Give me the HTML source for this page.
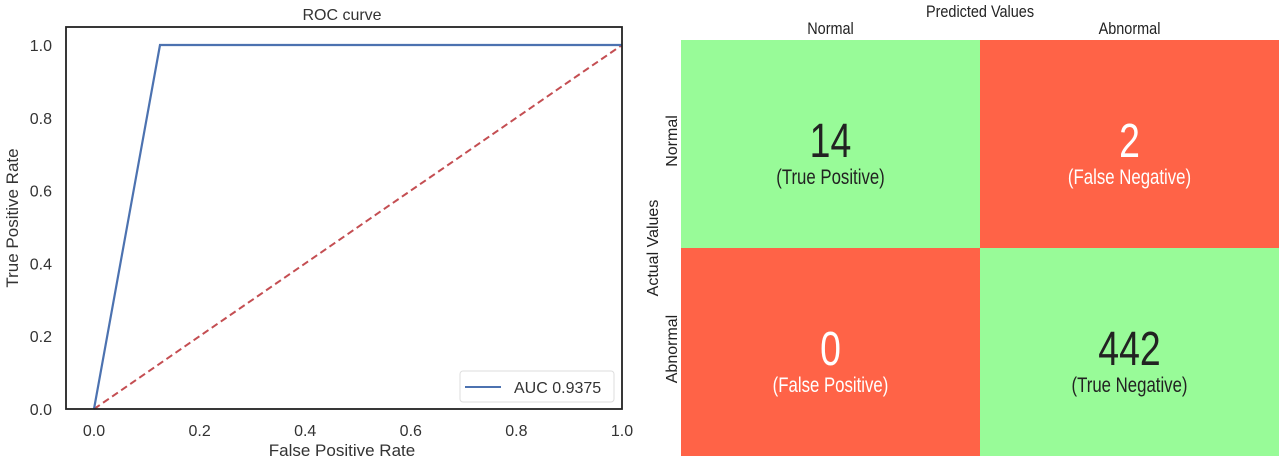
<!DOCTYPE html>
<html><head><meta charset="utf-8"><style>
body{margin:0;background:#fff;width:1279px;height:457px;overflow:hidden;font-family:"Liberation Sans",sans-serif}
svg text{font-family:"Liberation Sans",sans-serif}
</style></head><body>
<svg width="1279" height="457">
<g id="roc"></g>
<g id="cm" class="cm"></g>
</svg>
<script>
const fprValues=[0,0.125,1];
const tprValues=[0,1,1];
const chanceX=[0,1];
const chanceY=[0,1];
const xTicks=[0,0.2,0.4,0.6,0.8,1.0];
const yTicks=[0,0.2,0.4,0.6,0.8,1.0];
const aucLabel="AUC 0.9375";
const cmValues=[[14,2],[0,442]];
const cmLabels=[["(True Positive)","(False Negative)"],["(False Positive)","(True Negative)"]];
const classNames=["Normal","Abnormal"];

const NS="http://www.w3.org/2000/svg";
function mk(p,t,a,txt){const e=document.createElementNS(NS,t);for(const k in a)e.setAttribute(k,a[k]);if(txt!==undefined)e.textContent=txt;p.appendChild(e);return e;}
const X=v=>94+v*528, Y=v=>409-v*364;
const roc=document.getElementById('roc');
let e;
e=mk(roc,'text',{x:342,y:20,'text-anchor':'middle','font-size':16,fill:'#333'},'ROC curve');


xTicks.forEach(t=>{e=mk(roc,'text',{x:X(t),y:436,'text-anchor':'middle','font-size':16,fill:'#333'},t.toFixed(1));

});
yTicks.forEach(t=>{e=mk(roc,'text',{x:52,y:Y(t)+6,'text-anchor':'end','font-size':16,fill:'#333'},t.toFixed(1));

});
e=mk(roc,'text',{x:342,y:456,'text-anchor':'middle','font-size':17,fill:'#333'},'False Positive Rate');


e=mk(roc,'text',{x:0,y:0,'text-anchor':'middle','font-size':17,fill:'#333',transform:'translate(18,218) rotate(-90)'},'True Positive Rate');


e=mk(roc,'polyline',{points:chanceX.map((v,i)=>X(v)+','+Y(chanceY[i])).join(' '),fill:'none',stroke:'#c44e52','stroke-width':2,'stroke-dasharray':'7,4'});


e=mk(roc,'polyline',{points:fprValues.map((v,i)=>X(v)+','+Y(tprValues[i])).join(' '),fill:'none',stroke:'#4c72b0','stroke-width':2.2});


e=mk(roc,'rect',{x:66,y:27,width:556,height:382,fill:'none',stroke:'#222','stroke-width':1.8});


const lg=mk(roc,'g',{});


mk(lg,'rect',{x:460,y:371,width:154,height:31,rx:3,fill:'#fff',stroke:'#ddd'});
mk(lg,'line',{x1:465,y1:387,x2:501,y2:387,stroke:'#4c72b0','stroke-width':2});
mk(lg,'text',{x:514,y:393,'font-size':16,fill:'#333'},aucLabel);

const cm=document.getElementById('cm');
const cx0=681,cy0=40,cw=299,ch=208;
const colors=[["#98fb98","#ff6347"],["#ff6347","#98fb98"]];
const tcol=[["#222","#fff"],["#fff","#222"]];
for(let r=0;r<2;r++)for(let c=0;c<2;c++){
 const x=cx0+c*cw,y=cy0+r*ch;
 e=mk(cm,'rect',{x:x,y:y,width:cw,height:ch,fill:colors[r][c]});
 
 
 e=mk(cm,'text',{x:0,y:0,'text-anchor':'middle','font-size':48,fill:tcol[r][c],transform:'translate('+(x+cw/2)+','+(y+117)+') scale(0.78,1)'},String(cmValues[r][c]));
 
 
 e=mk(cm,'text',{x:0,y:0,'text-anchor':'middle','font-size':21,fill:tcol[r][c],transform:'translate('+(x+cw/2)+','+(y+144)+') scale(0.8,1)'},cmLabels[r][c]);
 
 
}
classNames.forEach((n,i)=>{
 e=mk(cm,'text',{x:0,y:0,'text-anchor':'middle','font-size':17,fill:'#222',transform:'translate('+(cx0+i*cw+cw/2)+',34) scale(0.85,1)'},n);
 
 
 e=mk(cm,'text',{x:0,y:0,'text-anchor':'middle','font-size':16,fill:'#222',transform:'translate(677,'+(cy0+i*ch+ch/2-3)+') rotate(-90)'},n);
 
 
});
e=mk(cm,'text',{x:0,y:0,'text-anchor':'middle','font-size':17,fill:'#222',transform:'translate(980,17) scale(0.85,1)'},'Predicted Values');


e=mk(cm,'text',{x:0,y:0,'text-anchor':'middle','font-size':16,fill:'#222',transform:'translate(658,248) rotate(-90)'},'Actual Values');


</script>
</body></html>
